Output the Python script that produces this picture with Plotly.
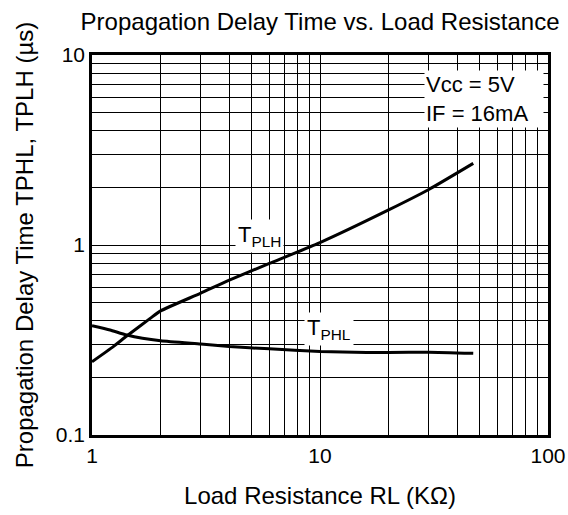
import plotly.graph_objects as go

# Load resistance (kOhm) and propagation delay (us)
rl_plh = [1.0, 1.24, 1.42, 1.8, 2.0, 3.0, 4.0, 6.0, 10.0, 20.0, 30.0, 47.0]
tplh = [0.243, 0.292, 0.332, 0.411, 0.45, 0.558, 0.654, 0.80, 1.03, 1.53, 1.96, 2.69]

rl_phl = [1.0, 1.2, 1.42, 2.0, 3.0, 4.0, 6.0, 10.0, 16.0, 20.0, 30.0, 47.0]
tphl = [0.376, 0.357, 0.336, 0.313, 0.301, 0.292, 0.284, 0.275, 0.272, 0.272, 0.273, 0.269]

x_ticks = [1, 10, 100]
y_ticks = [0.1, 1, 10]
x_minor = [2, 3, 4, 5, 6, 7, 8, 9, 20, 30, 40, 50, 60, 70, 80, 90]
y_minor = [0.2, 0.3, 0.4, 0.5, 0.6, 0.7, 0.8, 0.9, 2, 3, 4, 5, 6, 7, 8, 9]

FONT = "Liberation Sans, Arial, sans-serif"

fig = go.Figure()
fig.add_trace(go.Scatter(x=rl_plh, y=tplh, mode="lines",
                         line=dict(color="black", width=3, shape="spline", smoothing=0.5),
                         showlegend=False))
fig.add_trace(go.Scatter(x=rl_phl, y=tphl, mode="lines",
                         line=dict(color="black", width=3, shape="spline", smoothing=0.5),
                         showlegend=False))

axis_common = dict(
    type="log", automargin=False,
    showgrid=True, gridcolor="black", gridwidth=1,
    showline=True, linecolor="black", linewidth=2.5, mirror=True,
    ticks="", zeroline=False,
    tickfont=dict(family=FONT, size=21, color="black"),
)

fig.update_xaxes(
    **axis_common,
    range=[0, 2],
    tickvals=x_ticks, ticktext=["1", "10", "100"],
    minor=dict(tickvals=x_minor, showgrid=True, gridcolor="black", gridwidth=1, ticks=""),
    title=dict(text="Load Resistance RL (KΩ)", font=dict(family=FONT, size=24, color="black"),
               standoff=22),
)
fig.update_yaxes(
    **axis_common,
    range=[-1, 1],
    tickvals=y_ticks, ticktext=["0.1", "1", "10"],
    minor=dict(tickvals=y_minor, showgrid=True, gridcolor="black", gridwidth=1, ticks=""),
    title=dict(text="Propagation Delay Time TPHL, TPLH (µs)",
               font=dict(family=FONT, size=24, color="black"), standoff=16),
)

fig.add_annotation(xref="x", yref="y", x=1.455, y=0.921, xanchor="left", yanchor="top",
                   text="Vcc = 5V<br>IF = 16mA", align="left", showarrow=False,
                   font=dict(family=FONT, size=22, color="black"),
                   bgcolor="white", borderpad=1, width=116)
fig.add_annotation(xref="x", yref="y", x=0.736, y=0.047, xanchor="center", yanchor="middle",
                   text="T<sub>PLH</sub>", showarrow=False,
                   font=dict(family=FONT, size=22, color="black"),
                   bgcolor="white", borderpad=2)
fig.add_annotation(xref="x", yref="y", x=1.04, y=-0.442, xanchor="center", yanchor="middle",
                   text="T<sub>PHL</sub>", showarrow=False,
                   font=dict(family=FONT, size=22, color="black"),
                   bgcolor="white", borderpad=2)

fig.update_layout(
    width=568, height=515,
    margin=dict(l=92, r=20, t=55, b=80),
    paper_bgcolor="white", plot_bgcolor="white",
    title=dict(text="Propagation Delay Time vs. Load Resistance",
               font=dict(family=FONT, size=24, color="black"),
               x=0.5635, xanchor="center", y=0.959, yanchor="middle"),
)

fig.write_html("out.html")
